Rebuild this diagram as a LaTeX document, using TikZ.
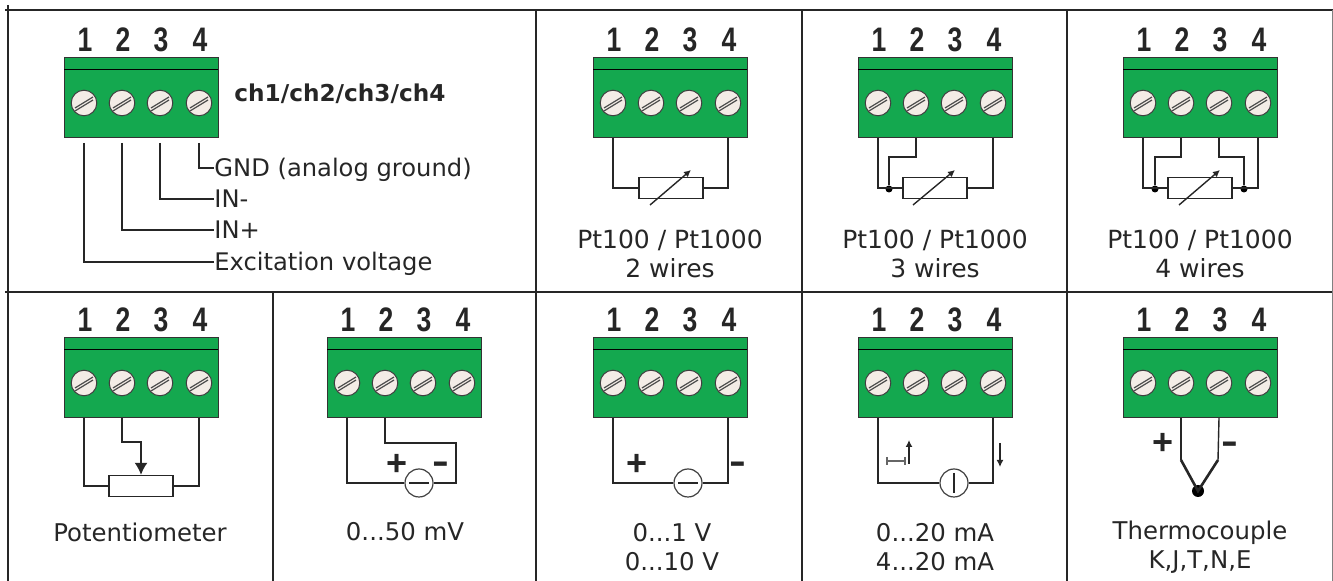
\documentclass[tikz,border=0pt]{standalone}
\usepackage{fontspec}
\setmainfont{DejaVu Sans}
\newfontfamily\pinfont{Liberation Sans}
\usetikzlibrary{arrows.meta}
\definecolor{blockgreen}{HTML}{14A84F}
\definecolor{screwface}{HTML}{F3ECE6}
\tikzset{
  grid/.style={draw=black!85,line width=0.8pt},
  wire/.style={draw=black!85,line width=0.7pt},
  res/.style={draw=black!85,fill=white,line width=0.7pt,minimum width=32pt,minimum height=10.5pt,inner sep=0pt},
  src/.style={draw=black!75,fill=white,circle,line width=0.6pt,minimum size=14pt,inner sep=0pt},
  dot/.style={fill=black,circle,minimum size=3.5pt,inner sep=0pt},
  lbl/.style={font=\fontsize{12.2}{14.5}\selectfont,align=center,inner sep=0pt,text=black!85},
  ptlbl/.style={lbl,font=\fontsize{12.5}{14.5}\selectfont},
  side/.style={font=\fontsize{12.1}{14}\selectfont,anchor=west,inner sep=0pt,text height=9pt,text depth=0pt,text=black!85},
  sign/.style={font=\pinfont\bfseries\fontsize{18}{18}\selectfont,inner sep=0pt,text=black!85},
  minus/.style={sign,xscale=1.4},
  pin/.style={font=\pinfont\bfseries\fontsize{17}{17}\selectfont,inner sep=0pt,xscale=0.78,text=black!85},
  tip/.style={-{Latex[length=3.5pt,width=3.5pt]},draw=black!85,line width=0.7pt},
}
% #1 name, #2 left edge, #3 top edge of the terminal block
\newcommand{\terminal}[3]{
  \fill[blockgreen,draw=black!80,line width=0.5pt] (#2,#3) rectangle ++(154,80);
  \draw[black,line width=0.5pt] (#2,#3+12) -- ++(154,0);
  \foreach \n/\dx in {1/20,2/58,3/96,4/135}{
    \node[pin] (#1n\n) at (#2+\dx+1,#3-18) {\n};
    \filldraw[fill=screwface,draw=black!75,line width=0.5pt] (#2+\dx,#3+45) circle (6.4pt);
    \draw[black!70,line width=0.6pt] (#2+\dx-9,#3+50) -- ++(18,-11);
    \draw[black!70,line width=0.6pt] (#2+\dx-9,#3+53) -- ++(18,-11);
    \coordinate (#1p\n) at (#2+\dx,#3+80);
  }
}
\begin{document}
\begin{tikzpicture}[x=0.5pt,y=-0.5pt]
\useasboundingbox (0,0) rectangle (1333,581);

% table lines
\path[grid] (5,10) -- (1333,10);
\path[grid] (5,292) -- (1333,292);
\path[grid] (8,5) -- (8,581);
\path[grid] (536,10) -- (536,581);
\path[grid] (802,10) -- (802,581);
\path[grid] (1067,10) -- (1067,581);
\path[grid] (273,292) -- (273,581);
\path[draw=black!50,line width=0.5pt] (1332,10) -- (1332,581);

% channel pinout
\terminal{a}{64}{58}
\node[font=\bfseries\fontsize{11.6}{14}\selectfont,anchor=west,inner sep=0pt,text=black!85] (chs) at (234,94) {ch1/ch2/ch3/ch4};
\node[side] (gnd) at (214,168) {GND (analog ground)};
\node[side] (inm) at (214,199) {IN-};
\node[side] (inp) at (214,230) {IN+};
\node[side] (exc) at (214,262) {Excitation voltage};
\path[wire] ([yshift=-2.5pt]ap4) |- (gnd.west);
\path[wire] ([yshift=-2.5pt]ap3) |- (inm.west);
\path[wire] ([yshift=-2.5pt]ap2) |- (inp.west);
\path[wire] ([yshift=-2.5pt]ap1) |- (exc.west);

% Pt100 2 wires
\terminal{b}{593}{58}
\node[res] (rb) at (671,188) {};
\path[wire] (bp1) |- (rb.west);
\path[wire] (bp4) |- (rb.east);
\draw[tip] (650,205) -- (691,170);
\node[ptlbl] (tb) at (670,254) {Pt100 / Pt1000\\2 wires};

% Pt100 3 wires
\terminal{c}{858}{58}
\node[res] (rc) at (935,188) {};
\node[dot] (dc) at (889,189) {};
\path[wire] (cp1) |- (rc.west);
\path[wire] (cp2) |- ++(-27,19) -- (dc);
\path[wire] (cp4) |- (rc.east);
\draw[tip] (913,205) -- (955,170);
\node[ptlbl] (tc) at (935,254) {Pt100 / Pt1000\\3 wires};

% Pt100 4 wires
\terminal{d}{1123}{58}
\node[res] (rd) at (1200,188) {};
\node[dot] (dd) at (1155,189) {};
\node[dot] (de) at (1244,189) {};
\path[wire] (dp1) |- (rd.west);
\path[wire] (dp2) |- ++(-26,19) -- (dd);
\path[wire] (dp3) |- ++(25,19) -- (de);
\path[wire] (dp4) |- (rd.east);
\draw[tip] (1179,205) -- (1220,170);
\node[ptlbl] (td) at (1200,254) {Pt100 / Pt1000\\4 wires};

% potentiometer
\terminal{e}{64}{338}
\node[res] (re) at (141,486) {};
\path[wire] (ep1) |- (re.west);
\path[wire] (ep4) |- (re.east);
\draw[draw=black!85,line width=0.7pt,-{Latex[length=6pt,width=6.5pt]}] (ep2) |- (141,442) -- (re.north);
\node[lbl] (te) at (140,532) {Potentiometer};

% 0...50 mV
\terminal{f}{327}{338}
\node[src] (sf) at (419,483) {};
\node[sign] (fp) at (397,465) {+};
\node[minus] (fm) at (441,468) {-};
\path[wire] (fp1) |- (sf.west);
\path[wire] (fp2) |- (456,443) |- (sf.east);
\draw[black!85,line width=1pt] (sf.center) ++(-10,0) -- ++(20,0);
\node[lbl] (tf) at (405,532) {0...50 mV};

% 0...1 V
\terminal{g}{593}{338}
\node[src] (sg) at (688,483) {};
\node[sign] (gp) at (637,465) {+};
\node[minus] (gm) at (738,468) {-};
\path[wire] (gp1) |- (sg.west);
\path[wire] (gp4) |- (sg.east);
\draw[black!85,line width=1pt] (sg.center) ++(-10,0) -- ++(20,0);
\node[lbl] (tg) at (672,547) {0...1 V\\0...10 V};

% 0...20 mA
\terminal{h}{858}{338}
\node[src] (sh) at (954,483) {};
\path[wire] (hp1) |- (sh.west);
\path[wire] (hp4) |- (sh.east);
\draw[black!85,line width=1pt] (sh.center) ++(0,-10) -- ++(0,20);
\coordinate (ha) at (909,464);
\coordinate (hb) at (909,440);
\coordinate (hc) at (1000,443);
\coordinate (hd) at (1000,467);
\draw[tip] (ha) -- (hb);
\draw[tip] (hc) -- (hd);
\draw[black!60,line width=0.7pt] (887,461) -- (905,461);
\draw[black!60,line width=0.7pt] (887,457) -- (887,465);
\draw[black!60,line width=0.7pt] (905,457) -- (905,465);
\node[lbl] (th) at (935,547) {0...20 mA\\4...20 mA};

% thermocouple
\terminal{i}{1123}{338}
\node[dot,minimum size=6pt] (di) at (1198,491) {};
\node[sign] (ip) at (1163,444) {+};
\node[minus] (im) at (1230,448) {-};
\coordinate (ia) at (1181,460);
\coordinate (ib) at (1218,460);
\path[wire] (ip2) -- (ia);
\path[wire] (ip3) -- (ib);
\draw[black!85,line width=1.3pt] (ia) -- (di.center) -- (ib);
\node[lbl] (ti) at (1200,547) {Thermocouple\\K,J,T,N,E};
\end{tikzpicture}
\end{document}
